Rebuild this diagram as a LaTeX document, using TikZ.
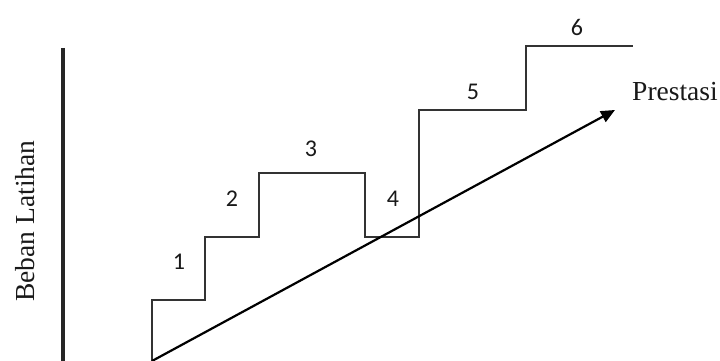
\documentclass[tikz,border=0pt]{standalone}
\usepackage{fontspec}
\setmainfont{Liberation Serif}
\newfontfamily\digitfont{Carlito}
\usetikzlibrary{arrows.meta}
\begin{document}
\begin{tikzpicture}[x=1pt,y=-1pt,
  axisline/.style={line width=3.4pt,draw=black!85},
  stairline/.style={line width=2pt,draw=black!80},
  trendline/.style={line width=2.2pt,draw=black,-{Triangle[length=14pt,width=12pt]}},
  numlabel/.style={font=\digitfont\fontsize{24}{24}\selectfont,text=black!90},
  serlabel/.style={font=\fontsize{27.5}{27.5}\selectfont,text=black!90}]
\useasboundingbox[fill=white] (0,0) rectangle (720,361);
% axis
\coordinate (axtop) at (63,48);
\coordinate (axbot) at (63,362);
\draw[axisline] (axtop) -- (axbot);
\node[serlabel,rotate=90] (beban) at (25,221) {Beban Latihan};
% staircase
\coordinate (s0) at (152,362);
\coordinate (s1) at (152,300);
\coordinate (s2) at (205,300);
\coordinate (s3) at (205,237);
\coordinate (s4) at (259,237);
\coordinate (s5) at (259,173);
\coordinate (s6) at (365,173);
\coordinate (s7) at (365,237);
\coordinate (s8) at (419,237);
\coordinate (s9) at (419,110);
\coordinate (s10) at (526,110);
\coordinate (s11) at (526,46);
\coordinate (s12) at (633,46);
\draw[stairline] (s0) -- (s1) -- (s2) -- (s3) -- (s4) -- (s5) -- (s6) -- (s7) -- (s8) -- (s9) -- (s10) -- (s11) -- (s12);
% numbers
\node[numlabel] (n1) at (179,262) {1};
\node[numlabel] (n2) at (232,199) {2};
\node[numlabel] (n3) at (311,149) {3};
\node[numlabel] (n4) at (393,199) {4};
\node[numlabel] (n5) at (473,92) {5};
\node[numlabel] (n6) at (577,27) {6};
% trend arrow
\coordinate (a0) at (152,361);
\coordinate (a1) at (615,110);
\draw[trendline] (a0) -- (a1);
\node[serlabel] (prestasi) at (675,92) {Prestasi};
\end{tikzpicture}
\end{document}
